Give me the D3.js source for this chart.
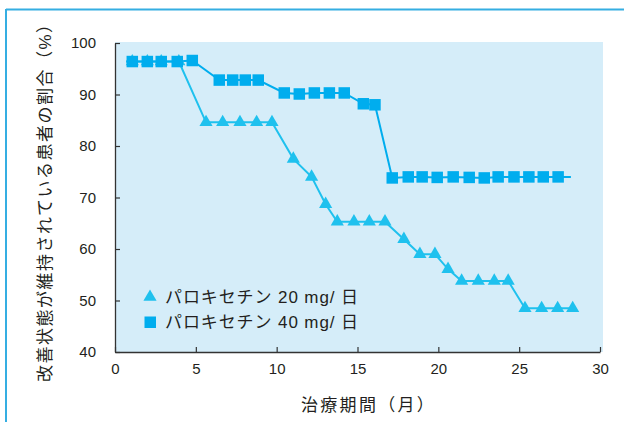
<!DOCTYPE html>
<html>
<head>
<meta charset="utf-8">
<script src="https://cdn.jsdelivr.net/npm/d3@7"></script>
<style>
  html, body { margin: 0; padding: 0; background: #fff; }
  svg { display: block; }
  .tick text { font-family: "Liberation Sans", Arial, sans-serif; font-size: 15px; fill: #231f20; }
  .jp { font-family: "Liberation Sans", "Noto Sans CJK JP", sans-serif; fill: #231f20; }
</style>
</head>
<body>
<svg id="chart" width="624" height="422"></svg>
<script>
// Treatment period (months) and share of patients who stayed improved (%)
const months20 = [1.07, 2.0, 2.86, 3.95, 5.63, 6.66, 7.73, 8.76, 9.71, 11.03, 12.16, 13.03,
                  13.75, 14.78, 15.73, 16.7, 17.87, 18.86, 19.79, 20.6, 21.44, 22.47, 23.46,
                  24.32, 25.36, 26.39, 27.38, 28.31];
const values20 = [96.4, 96.4, 96.4, 96.4, 84.6, 84.6, 84.6, 84.6, 84.6, 77.5, 74.0, 68.7,
                  65.3, 65.3, 65.3, 65.3, 61.9, 59.0, 59.0, 56.1, 53.8, 53.8, 53.8,
                  53.8, 48.5, 48.5, 48.5, 48.5];

const months40 = [1.07, 2.0, 2.86, 3.85, 4.78, 6.45, 7.28, 8.06, 8.86, 10.47, 11.4, 12.33,
                  13.26, 14.18, 15.36, 16.08, 17.15, 18.14, 19.0, 19.93, 20.92, 21.91,
                  22.84, 23.7, 24.68, 25.6, 26.49, 27.41];
const values40 = [96.4, 96.4, 96.4, 96.4, 96.6, 92.8, 92.8, 92.8, 92.8, 90.3, 90.1, 90.3,
                  90.3, 90.3, 88.2, 88.0, 73.8, 74.0, 74.0, 73.9, 74.0, 73.9,
                  73.8, 74.0, 74.0, 74.0, 74.0, 74.0];

// Lines begin a little before the first observation; the 40 mg line runs on past its last one
const lineStart = 0.7;
const lineEnd40 = 28.2;

const xTicks = [0, 5, 10, 15, 20, 25, 30];
const yTicks = [40, 50, 60, 70, 80, 90, 100];
const seriesLabels = ["パロキセチン 20 mg/ 日", "パロキセチン 40 mg/ 日"];
const xTitle = "治療期間（月）";
const yTitle = "改善状態が維持されている患者の割合（%）";

const col20 = "#1fc1ee";
const col40 = "#00adee";

const svg = d3.select("#chart");

// Outer frame (top and left rules)
svg.append("line").attr("x1", 6).attr("x2", 624).attr("y1", 9.5).attr("y2", 9.5)
  .attr("stroke", "#35aee2").attr("stroke-width", 2);
svg.append("line").attr("x1", 6).attr("x2", 6).attr("y1", 9).attr("y2", 422)
  .attr("stroke", "#35aee2").attr("stroke-width", 2);

const x = d3.scaleLinear().domain([0, 30]).range([115, 600]);
const y = d3.scaleLinear().domain([40, 100]).range([352, 43]);

// Plot background
svg.append("rect")
  .attr("x", x(0)).attr("y", y(100) - 1)
  .attr("width", x(30) + 3 - x(0)).attr("height", y(40) - y(100) + 1)
  .attr("fill", "#d5edf9");

// Axes with inward ticks
const yAxis = svg.append("g").attr("transform", `translate(${x(0)},0)`)
  .call(d3.axisLeft(y).tickValues(yTicks).tickSizeInner(-5).tickSizeOuter(0).tickPadding(19));
const xAxis = svg.append("g").attr("transform", `translate(0,${y(40)})`)
  .call(d3.axisBottom(x).tickValues(xTicks).tickSizeInner(-5).tickSizeOuter(0).tickPadding(11));
[yAxis, xAxis].forEach(g => {
  g.select(".domain").attr("stroke", "#333").attr("stroke-width", 1.3);
  g.selectAll(".tick line").attr("stroke", "#333").attr("stroke-width", 1.2);
});

// Series lines
const line = d3.line().x(d => x(d[0])).y(d => y(d[1]));
const pts20 = months20.map((m, i) => [m, values20[i]]);
const pts40 = months40.map((m, i) => [m, values40[i]]);

svg.append("path")
  .datum([[lineStart, values20[0]], ...pts20])
  .attr("d", line).attr("fill", "none").attr("stroke", col20).attr("stroke-width", 2);
svg.append("path")
  .datum([[lineStart, values40[0]], ...pts40, [lineEnd40, values40[values40.length - 1]]])
  .attr("d", line).attr("fill", "none").attr("stroke", col40).attr("stroke-width", 2);

// Markers
const tri = d3.symbol().type(d3.symbolTriangle).size(75);
svg.append("g").selectAll("path").data(pts20).join("path")
  .attr("d", tri)
  .attr("transform", d => `translate(${x(d[0])},${y(d[1])})`)
  .attr("fill", col20);

const sq = 11.5;
svg.append("g").selectAll("rect").data(pts40).join("rect")
  .attr("x", d => x(d[0]) - sq / 2).attr("y", d => y(d[1]) - sq / 2)
  .attr("width", sq).attr("height", sq)
  .attr("fill", col40);

// Legend
const lg = svg.append("g");
lg.append("path").attr("d", tri).attr("transform", "translate(150,297)").attr("fill", col20);
lg.append("rect").attr("x", 144.5).attr("y", 316.5).attr("width", sq).attr("height", sq).attr("fill", col40);
seriesLabels.forEach((t, i) => {
  lg.append("text").attr("class", "jp").attr("x", 165).attr("y", 297 + i * 25).attr("dy", "0.36em")
    .attr("font-size", 17).attr("letter-spacing", 0.9).text(t);
});

// Axis titles
svg.append("text").attr("class", "jp")
  .attr("x", 301).attr("y", 405).attr("dy", "0.36em")
  .attr("font-size", 17).attr("letter-spacing", 2.3).text(xTitle);
svg.append("text").attr("class", "jp")
  .attr("transform", "translate(45,382) rotate(-90)")
  .attr("dy", "0.36em")
  .attr("font-size", 17).attr("letter-spacing", 1.5).text(yTitle);
</script>
</body>
</html>
